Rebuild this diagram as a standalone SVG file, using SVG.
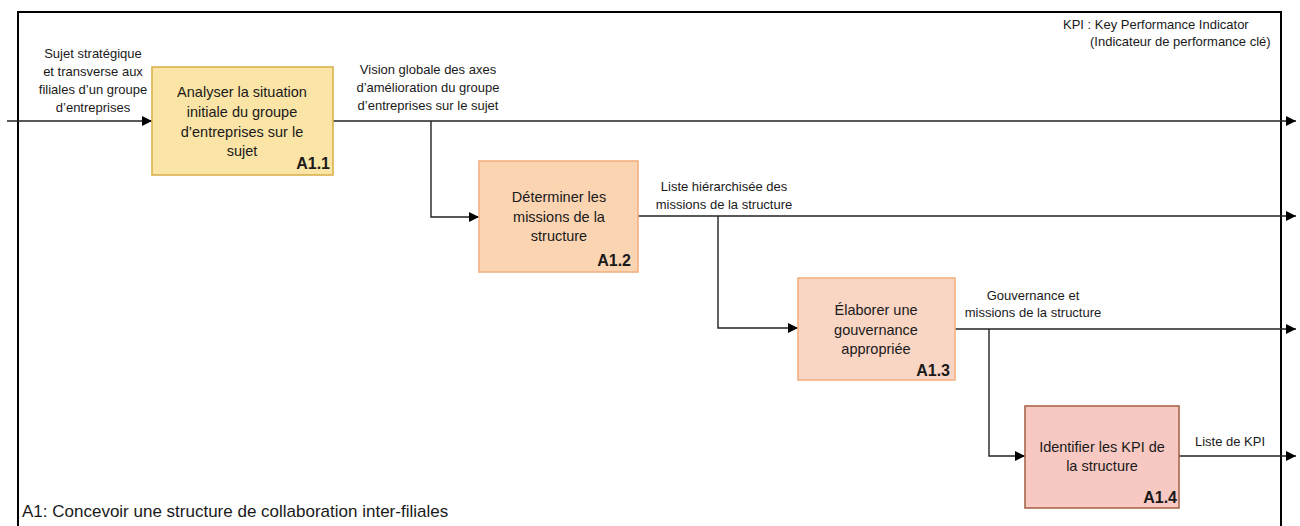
<svg xmlns="http://www.w3.org/2000/svg" width="1300" height="526" viewBox="0 0 1300 526">
<style>
text{font-family:"Liberation Sans",Arial,sans-serif;fill:#1a1a1a}
.lbl{font-size:13px;text-anchor:middle}
.box{font-size:14.5px;text-anchor:middle}
.id{font-size:16px;font-weight:bold;text-anchor:end}
.c{fill:none;stroke:#222;stroke-width:1.4}
</style>
<defs>
<marker id="ah" viewBox="0 0 10 10" refX="10" refY="5" markerWidth="10" markerHeight="10" markerUnits="userSpaceOnUse" orient="auto">
<path d="M0,0 L10,5 L0,10 z" fill="#000"/>
</marker>
</defs>
<rect x="0" y="0" width="1300" height="526" fill="#fff"/>
<rect id="frame" x="18" y="12" width="1263" height="530" fill="none" stroke="#000" stroke-width="2"/>
<g id="connectors">
<path class="c" d="M7,121 H152" marker-end="url(#ah)"/>
<path class="c" d="M333,121 H1296" marker-end="url(#ah)"/>
<path class="c" d="M431,121 V217 H479" marker-end="url(#ah)"/>
<path class="c" d="M638,216 H1296" marker-end="url(#ah)"/>
<path class="c" d="M718,216 V328 H798" marker-end="url(#ah)"/>
<path class="c" d="M955,329 H1296" marker-end="url(#ah)"/>
<path class="c" d="M989,329 V456 H1025" marker-end="url(#ah)"/>
<path class="c" d="M1179,456 H1296" marker-end="url(#ah)"/>
</g>
<g id="labels">
<text class="lbl" x="93"><tspan x="93" y="58">Sujet stratégique</tspan><tspan x="93" y="76">et transverse aux</tspan><tspan x="93" y="94">filiales d’un groupe</tspan><tspan x="93" y="112">d’entreprises</tspan></text>
<text class="lbl"><tspan x="428" y="74">Vision globale des axes</tspan><tspan x="428" y="92">d’amélioration du groupe</tspan><tspan x="428" y="110">d’entreprises sur le sujet</tspan></text>
<text class="lbl"><tspan x="724" y="191">Liste hiérarchisée des</tspan><tspan x="724" y="209">missions de la structure</tspan></text>
<text class="lbl"><tspan x="1033" y="300">Gouvernance et</tspan><tspan x="1033" y="317">missions de la structure</tspan></text>
<text class="lbl" x="1230" y="446">Liste de KPI</text>
<text style="font-size:13px"><tspan x="1063" y="29">KPI : Key Performance Indicator</tspan><tspan x="1090" y="46">(Indicateur de performance clé)</tspan></text>
<text x="22" y="517" style="font-size:17px">A1: Concevoir une structure de collaboration inter-filiales</text>
</g>
<g id="A1.1">
<rect x="152" y="67" width="181" height="108" fill="#fae4a6" stroke="#d9b24e" stroke-width="1.6"/>
<text class="box"><tspan x="242" y="97">Analyser la situation</tspan><tspan x="242" y="117">initiale du groupe</tspan><tspan x="242" y="137">d’entreprises sur le</tspan><tspan x="242" y="156">sujet</tspan></text>
<text class="id" x="330" y="169">A1.1</text>
</g>
<g id="A1.2">
<rect x="479" y="161" width="159" height="111" fill="#fbd4b2" stroke="#f4b183" stroke-width="1.6"/>
<text class="box"><tspan x="559" y="202">Déterminer les</tspan><tspan x="559" y="222">missions de la</tspan><tspan x="559" y="241">structure</tspan></text>
<text class="id" x="631" y="266">A1.2</text>
</g>
<g id="A1.3">
<rect x="798" y="278" width="157" height="102" fill="#f9d5c4" stroke="#f4b183" stroke-width="1.6"/>
<text class="box"><tspan x="876" y="315">Élaborer une</tspan><tspan x="876" y="335">gouvernance</tspan><tspan x="876" y="354">appropriée</tspan></text>
<text class="id" x="950" y="376">A1.3</text>
</g>
<g id="A1.4">
<rect x="1025" y="406" width="154" height="102" fill="#f7c9c2" stroke="#a8674a" stroke-width="1.6"/>
<text class="box"><tspan x="1102" y="452">Identifier les KPI de</tspan><tspan x="1102" y="471">la structure</tspan></text>
<text class="id" x="1177" y="503">A1.4</text>
</g>
</svg>
